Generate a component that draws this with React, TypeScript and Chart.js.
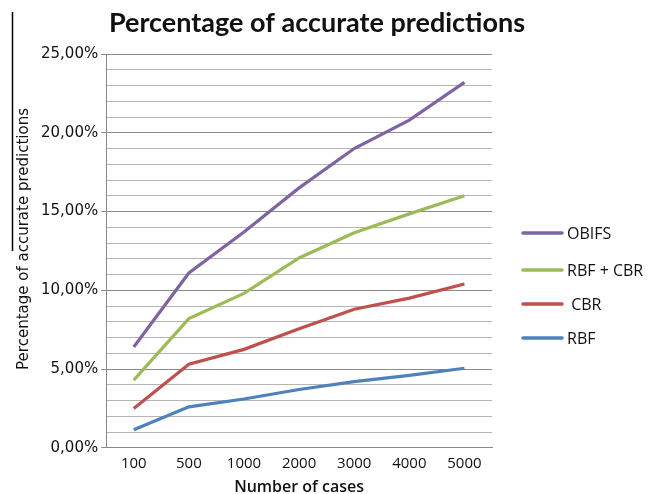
import React, { useEffect, useRef } from "react";
import { Chart, registerables } from "chart.js";

Chart.register(...registerables);

const categories = ["100", "500", "1000", "2000", "3000", "4000", "5000"];
const obifs = [6.4, 11.1, 13.7, 16.5, 19.0, 20.8, 23.2];
const rbfCbr = [4.3, 8.2, 9.8, 12.05, 13.65, 14.85, 16.0];
const cbr = [2.5, 5.3, 6.25, 7.55, 8.8, 9.5, 10.4];
const rbf = [1.15, 2.6, 3.1, 3.7, 4.2, 4.6, 5.05];
const seriesNames = ["OBIFS", "RBF + CBR", " CBR", "RBF"];
const seriesColors = ["#8064A2", "#9BBB59", "#C0504D", "#4F81BD"];
const chartTitle = "Percentage of accurate predictions";

const legendPlugin = {
  id: "customLegend",
  afterDraw(chart: any) {
    const ctx = chart.ctx;
    ctx.save();
    // stray left line from the original
    ctx.strokeStyle = "#000";
    ctx.lineWidth = 1.5;
    ctx.beginPath();
    ctx.moveTo(12.5, 12);
    ctx.lineTo(12.5, 251);
    ctx.stroke();

    // title
    ctx.fillStyle = "#111";
    ctx.font = "bold 27px Lato";
    ctx.textAlign = "center";
    ctx.textBaseline = "alphabetic";
    ctx.fillText(chartTitle, 317, 32);

    const ys = [233, 270, 304, 338];
    chart.data.datasets.forEach((ds: any, i: number) => {
      ctx.strokeStyle = ds.borderColor;
      ctx.lineWidth = 3.5;
      ctx.lineCap = "round";
      ctx.beginPath();
      ctx.moveTo(523, ys[i]);
      ctx.lineTo(562, ys[i]);
      ctx.stroke();
      ctx.fillStyle = "#111";
      ctx.font = "16px 'Open Sans'";
      ctx.textBaseline = "middle";
      ctx.textAlign = "left";
      ctx.fillText(seriesNames[i], 567, ys[i] + 1);
    });
    ctx.restore();
  },
};

export default function App() {
  const ref = useRef<HTMLCanvasElement>(null);
  useEffect(() => {
    const data = [obifs, rbfCbr, cbr, rbf];
    const chart = new Chart(ref.current!, {
      type: "line",
      data: {
        labels: categories,
        datasets: data.map((d, i) => ({
          label: seriesNames[i],
          data: d,
          borderColor: seriesColors[i],
          backgroundColor: seriesColors[i],
          borderWidth: 3.2,
          pointRadius: 0,
          tension: 0,
        })),
      },
      options: {
        responsive: false,
        animation: false,
        layout: { padding: { left: 15, right: 156, top: 54, bottom: -3 } },
        plugins: {
          legend: { display: false },
          tooltip: { enabled: false },
          title: { display: false },
        },
        scales: {
          x: {
            offset: true,
            grid: { display: false, drawTicks: false },
            border: { color: "#888", width: 1 },
            ticks: {
              color: "#111",
              font: { family: "Open Sans", size: 15 },
              padding: 7,
            },
            title: {
              display: true,
              text: "Number of cases",
              color: "#111",
              font: { family: "Open Sans", size: 16, weight: "600" },
              padding: { top: -2, bottom: 0 },
            },
          },
          y: {
            min: 0,
            max: 25,
            grid: {
              color: (c: any) => (c.tick && c.tick.value % 5 === 0 ? "#8a8a8a" : "#b5b5b5"),
              tickColor: (c: any) => (c.tick && c.tick.value % 5 === 0 ? "#8a8a8a" : "rgba(0,0,0,0)"),
              tickLength: 5,
              lineWidth: 1,
            },
            border: { color: "#888", width: 1 },
            ticks: {
              stepSize: 1,
              autoSkip: false,
              color: "#111",
              font: { family: "DejaVu Sans", size: 15 },
              padding: 3,
              callback: (v: any) =>
                Number(v) % 5 === 0 ? Number(v).toFixed(2).replace(".", ",") + "%" : "",
            },
            title: {
              display: true,
              text: "     Percentage of accurate predictions",
              color: "#111",
              font: { family: "DejaVu Sans", size: 15 },
              padding: { top: 0, bottom: 5 },
            },
          },
        },
      },
      plugins: [legendPlugin],
    });
    return () => chart.destroy();
  }, []);
  return (
    <div style={{ position: "fixed", left: 0, top: 0, width: 648, height: 494, background: "#fff" }}>
      <canvas ref={ref} width={648} height={494} />
    </div>
  );
}
